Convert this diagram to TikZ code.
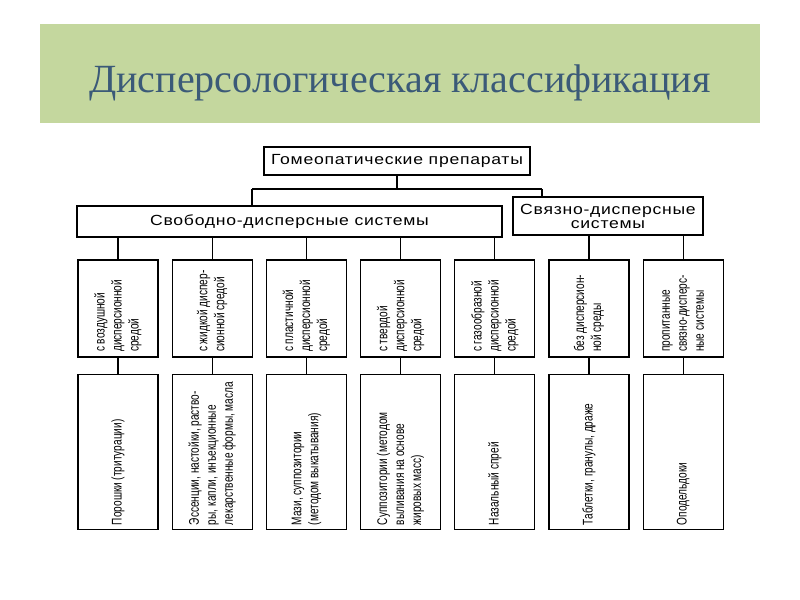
\documentclass[tikz,border=0pt]{standalone}
\usepackage{fontspec}
\setmainfont{Liberation Serif}
\newfontfamily\widefont[FakeStretch=1.2,LetterSpace=5]{Liberation Sans}
\newfontfamily\narrowfont[FakeStretch=0.72]{Liberation Sans}
\usetikzlibrary{positioning,calc}
\definecolor{bannergreen}{HTML}{C4D79E}
\definecolor{titleblue}{HTML}{3B5A78}

% rotated text block, read from bottom to top
\newcommand{\uptext}[2]{\rotatebox{90}{\begin{minipage}{#1}\raggedright #2\end{minipage}}}

\tikzset{
  headbox/.style={draw, line width=0.9pt, inner sep=0pt, align=center,
    font=\widefont\fontsize{11}{10.5}\selectfont},
  midbox/.style={draw, line width=0.9pt, inner sep=0pt, minimum width=60pt,
    minimum height=72.75pt, font=\narrowfont\fontsize{10.5}{12.75}\selectfont},
  lowbox/.style={midbox, minimum height=116.25pt},
  link/.style={line width=0.9pt}
}

\begin{document}
\begin{tikzpicture}[x=0.75pt, y=-0.75pt]
  \useasboundingbox (0,0) rectangle (800,600);

  % Banner and title
  \fill[bannergreen] (40,24) rectangle (760,123);
  \node[anchor=base, text=titleblue, font=\fontsize{30}{34}\selectfont] (title) at (400,92)
    {Дисперсологическая классификация};

  % Top level
  \node[headbox, minimum width=199.5pt, minimum height=21pt] (prep) at (397,161)
    {Гомеопатические препараты};

  % Second level
  \node[headbox, minimum width=318.75pt, minimum height=23.25pt] (free) at (289.5,221.5)
    {Свободно-дисперсные системы};
  \node[headbox, minimum width=142.5pt, minimum height=28.5pt] (bound) at (608,216)
    {Связно-дисперсные\\системы};

  % Fork between levels
  \coordinate (fork) at (397,189);
  \coordinate (forkL) at (252,189);
  \coordinate (forkR) at (542,189);
  \draw[link] (prep.south) -- (fork);
  \draw[link] (forkL) -- (forkR);
  \draw[link] (forkL) -- (forkL |- free.north);
  \draw[link] (forkR) -- (forkR |- bound.north);

  % Dispersion media
  \node[midbox] (mid1) at (118,308.5) {\uptext{65pt}{с воздушной\\дисперсионной\\средой}};
  \node[midbox, right=9.75pt of mid1] (mid2) {\uptext{65pt}{с жидкой диспер-\\сионной средой}};
  \node[midbox, right=9.75pt of mid2] (mid3) {\uptext{65pt}{с пластичной\\дисперсионной\\средой}};
  \node[midbox, right=9.75pt of mid3] (mid4) {\uptext{65pt}{с твердой\\дисперсионной\\средой}};
  \node[midbox, right=9.75pt of mid4] (mid5) {\uptext{65pt}{с газообразной\\дисперсионной\\средой}};
  \node[midbox, right=9.75pt of mid5] (mid6) {\uptext{65pt}{без дисперсион-\\ной среды}};
  \node[midbox, right=9.75pt of mid6] (mid7) {\uptext{65pt}{пропитанные\\связно-дисперс-\\ные системы}};

  % Dosage forms
  \node[lowbox, below=12pt of mid1] (low1) {\uptext{110pt}{Порошки (тритурации)}};
  \node[lowbox, below=12pt of mid2] (low2) {\uptext{110pt}{Эссенции, настойки, раство-\\ры, капли, инъекционные\\лекарственные формы, масла}};
  \node[lowbox, below=12pt of mid3] (low3) {\uptext{110pt}{Мази, суппозитории\\(методом выкатывания)}};
  \node[lowbox, below=12pt of mid4] (low4) {\uptext{110pt}{Суппозитории (методом\\выливания на основе\\жировых масс)}};
  \node[lowbox, below=12pt of mid5] (low5) {\uptext{110pt}{Назальный спрей}};
  \node[lowbox, below=12pt of mid6] (low6) {\uptext{110pt}{Таблетки, гранулы, драже}};
  \node[lowbox, below=12pt of mid7] (low7) {\uptext{110pt}{Оподельдоки}};

  % Links from second level
  \draw[link] (mid1.north |- free.south) -- (mid1.north);
  \draw[link] (mid2.north |- free.south) -- (mid2.north);
  \draw[link] (mid3.north |- free.south) -- (mid3.north);
  \draw[link] (mid4.north |- free.south) -- (mid4.north);
  \draw[link] (mid5.north |- free.south) -- (mid5.north);
  \draw[link] (mid6.north |- bound.south) -- (mid6.north);
  \draw[link] (mid7.north |- bound.south) -- (mid7.north);

  % Links to dosage forms
  \draw[link] (mid1) -- (low1);
  \draw[link] (mid2) -- (low2);
  \draw[link] (mid3) -- (low3);
  \draw[link] (mid4) -- (low4);
  \draw[link] (mid5) -- (low5);
  \draw[link] (mid6) -- (low6);
  \draw[link] (mid7) -- (low7);
\end{tikzpicture}
\end{document}
